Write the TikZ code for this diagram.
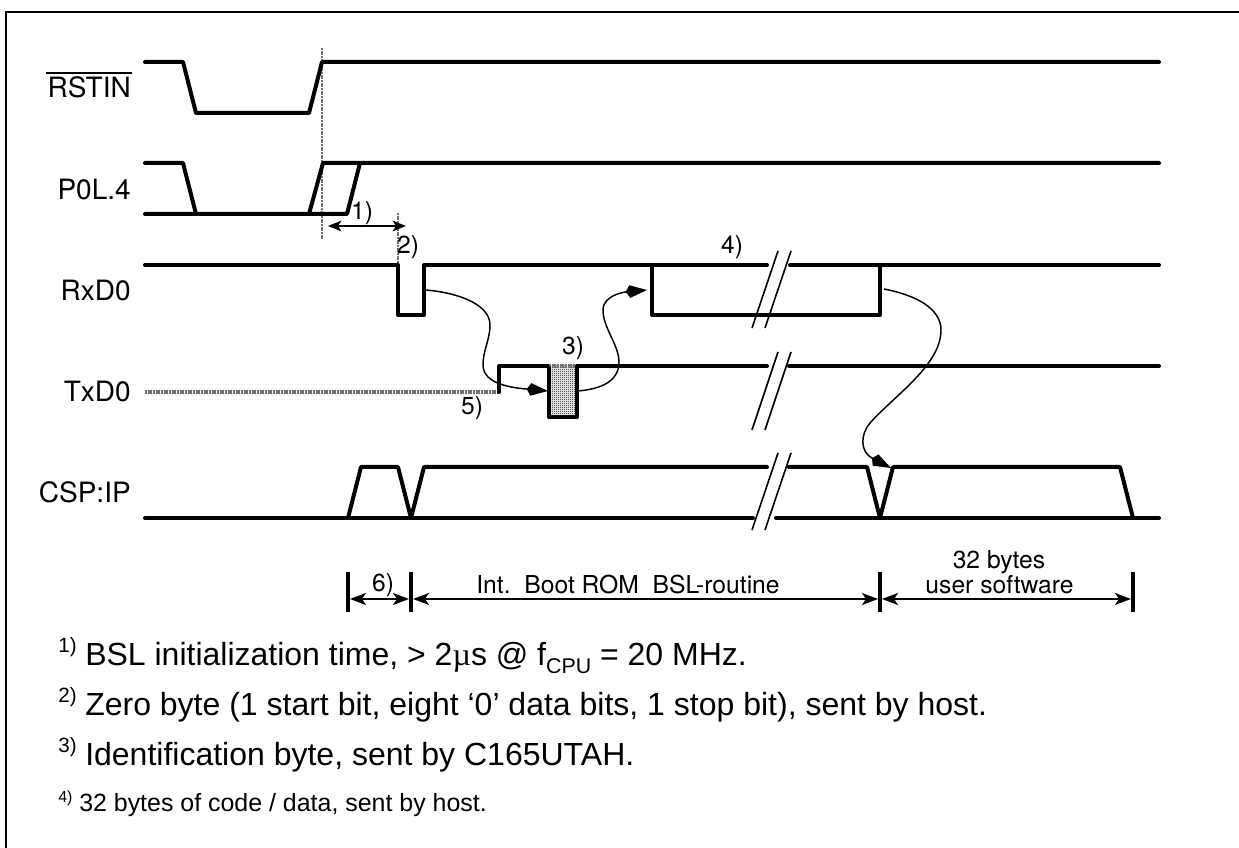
\documentclass[tikz,border=0pt]{standalone}
\usepackage{fontspec}
\setmainfont{Liberation Sans}
\newfontfamily\heros{TeX Gyre Heros}
\newfontfamily\symf{Liberation Serif}
\usetikzlibrary{arrows.meta,patterns}
\pgfdeclarepatternformonly{finecheck}{\pgfqpoint{0pt}{0pt}}{\pgfqpoint{1.5pt}{1.5pt}}{\pgfqpoint{1.5pt}{1.5pt}}{
  \pgfpathrectangle{\pgfqpoint{0pt}{0pt}}{\pgfqpoint{.75pt}{.75pt}}
  \pgfpathrectangle{\pgfqpoint{.75pt}{.75pt}}{\pgfqpoint{.75pt}{.75pt}}
  \pgfusepath{fill}
}
\tikzset{
  sig/.style={line width=3pt,line join=round,line cap=round},
  flow/.style={line width=1.1pt,-{Kite[length=16pt,width=9.5pt,inset=3pt]}},
  brk/.style={line width=1.2pt},
  guide/.style={line width=2.2pt,black!55,dash pattern=on 1.5pt off .5pt},
  shade/.style={line width=3.2pt,black!55,dash pattern=on 1.5pt off .5pt},
  dim/.style={line width=1.5pt,{Stealth[length=12pt,width=9pt,inset=3pt]}-{Stealth[length=12pt,width=9pt,inset=3pt]}},
  dimshort/.style={line width=1.5pt,{Stealth[length=10pt,width=8pt,inset=2.5pt]}-{Stealth[length=10pt,width=8pt,inset=2.5pt]}},
  bar/.style={line width=3pt},
  lab/.style={font=\heros\fontsize{21}{24}\selectfont,inner sep=0pt,anchor=base east},
  note/.style={font=\heros\fontsize{18.5}{19}\selectfont,inner sep=0pt},
  notebase/.style={font=\heros\fontsize{18.5}{19}\selectfont,inner sep=0pt,anchor=base},
  foot/.style={font=\fontsize{24}{26}\selectfont,anchor=base west,inner sep=0pt},
  footsmall/.style={font=\fontsize{18.7}{20}\selectfont,anchor=base west,inner sep=0pt},
}
\newcommand{\fn}[1]{\makebox[20.25pt][l]{\raisebox{9.75pt}{\fontsize{15.5}{16}\selectfont #1}}}
\begin{document}
\begin{tikzpicture}[x=.75pt,y=-.75pt]
\useasboundingbox (0,0) rectangle (1239,848);
\draw[line width=1.5pt] (6,848) -- (6,12) -- (1239,12);
% guides
\draw[guide] (322,48) -- (322,240);
\draw[guide] (398,213) -- (398,264);
% RSTIN
\draw[sig] (145,62) -- (183,62) -- (196,113) -- (309,113) -- (322,62) -- (1159,62);
% P0L.4
\draw[sig] (145,163) -- (183,163) -- (196,214);
\draw[sig] (145,214) -- (347,214) -- (360,163);
\draw[sig] (309,214) -- (323,163) -- (1159,163);
% RxD0
\draw[sig] (145,265) -- (398,265) -- (398,315) -- (424,315) -- (424,265) -- (652,265) -- (652,315) -- (880,315) -- (880,265);
\draw[sig] (652,265) -- (767,265);
\draw[sig] (790,265) -- (1159,265);
% TxD0
\draw[shade] (145,392) -- (499,392);
\draw[sig] (499,392) -- (499,366) -- (549,366);
\fill[pattern=finecheck] (550,366) rectangle (576,416);
\draw[shade] (549,366) -- (577,366);
\draw[sig] (549,368) -- (549,417) -- (577,417) -- (577,368);
\draw[sig] (577,366) -- (767,366);
\draw[sig] (789,366) -- (1159,366);
% CSP:IP
\draw[sig] (145,518) -- (753,518);
\draw[sig] (776,518) -- (1159,518);
\draw[sig] (348,518) -- (361,467) -- (398,467) -- (411,518) -- (424,467) -- (767,467);
\draw[sig] (789,467) -- (867,467) -- (880,518) -- (893,467) -- (1120,467) -- (1133,518);
% breaks
\foreach \n/\t/\b in {a/251/328,b/352/430,c/453/530}{
  \draw[brk] (752,\b) -- (778,\t);
  \draw[brk] (765,\b) -- (791,\t);
}
% curved arrows
\coordinate (c1s) at (426,290);
\coordinate (c1e) at (548,391);
\coordinate (c2s) at (578,391);
\coordinate (c2e) at (647,290);
\coordinate (c3s) at (884,289);
\coordinate (c3e) at (891,468);
\draw[flow] (c1s) .. controls (460,293) and (490,305) .. (490,325)
  .. controls (490,340) and (483,350) .. (483,365)
  .. controls (483,385) and (515,388) .. (c1e);
\draw[flow] (c2s) .. controls (600,389) and (619,382) .. (619,362)
  .. controls (619,345) and (603,328) .. (603,310)
  .. controls (603,295) and (625,292) .. (c2e);
\draw[flow] (c3s) .. controls (915,295) and (941,308) .. (941,330)
  .. controls (941,365) and (895,395) .. (870,423)
  .. controls (860,435) and (860,452) .. (c3e);
% labels
\node[lab] (rstin) at (131,98) {\makebox[0pt][l]{\hspace{-1.5pt}\rule[18pt]{64.5pt}{1.2pt}}RSTIN};
\node[lab] (p0l) at (131,200) {P0L.4};
\node[lab] (rxd) at (131,301) {RxD0};
\node[lab] (txd) at (131,402) {TxD0};
\node[lab] (csp) at (131,503) {CSP:IP};
\node[note] (n1) at (362,213) {1)};
\node[note] (n2) at (408,247) {2)};
\node[note] (n3) at (573,348) {3)};
\node[note] (n4) at (732,247) {4)};
\node[note] (n5) at (472,408) {5)};
\node[note] (n6) at (383,585) {6)};
\node[notebase] (boot) at (628,593) {Int.\ \ Boot ROM\ \ BSL-routine};
\node[notebase] (user1) at (999,568) {32 bytes};
\node[notebase] (user2) at (999.5,593) {user software};
% dimension
\coordinate (d1a) at (328,226); \coordinate (d1b) at (406,226);
\draw[dimshort] (d1a) -- (d1b);
\coordinate (b1) at (348,572); \coordinate (b2) at (411,572);
\coordinate (b3) at (880,572); \coordinate (b4) at (1133,572);
\foreach \p in {b1,b2,b3,b4}{ \draw[bar] (\p) -- ++(0,40); }
\draw[dim] (350,599) -- (409,599);
\draw[dim] (413,599) -- (878,599);
\draw[dim] (882,599) -- (1131,599);
% footnotes
\node[foot] (f1) at (58,665) {\fn{1)}BSL initialization time, > 2{\symf µ}s @ f\raisebox{-6pt}{\fontsize{16}{16}\selectfont CPU} = 20 MHz.};
\node[foot] (f2) at (58,715) {\fn{2)}Zero byte (1 start bit, eight ‘0’ data bits, 1 stop bit), sent by host.};
\node[foot] (f3) at (58,765) {\fn{3)}Identification byte, sent by C165UTAH.};
\node[footsmall] (f4) at (58,811) {\makebox[15.75pt][l]{\raisebox{6.75pt}{\fontsize{12}{12}\selectfont 4)}}32 bytes of code / data, sent by host.};
\end{tikzpicture}
\end{document}
